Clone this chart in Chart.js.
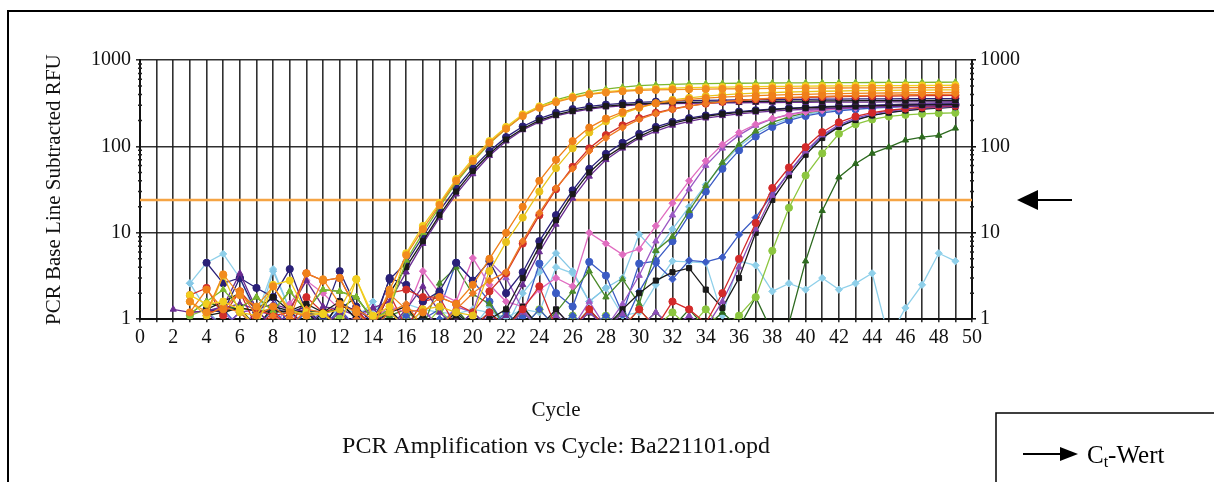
<!DOCTYPE html>
<html>
<head>
<meta charset="utf-8">
<script src="https://cdn.jsdelivr.net/npm/chart.js@4.4.1/dist/chart.umd.min.js"></script>
<style>
  html, body { margin: 0; padding: 0; background: #fff; }
  #grafica { display: block; }
</style>
</head>
<body>
<canvas id="grafica" width="1214" height="482"></canvas>
<script>
const grafica = document.getElementById('grafica');

// x: Zyklus 1..49
const cycles = [1, 2, 3, 4, 5, 6, 7, 8, 9, 10, 11, 12, 13, 14, 15, 16, 17, 18, 19, 20,
  21, 22, 23, 24, 25, 26, 27, 28, 29, 30, 31, 32, 33, 34, 35, 36, 37, 38, 39, 40,
  41, 42, 43, 44, 45, 46, 47, 48, 49];

const xTicks = [0, 2, 4, 6, 8, 10, 12, 14, 16, 18, 20, 22, 24, 26, 28, 30, 32, 34, 36, 38, 40, 42, 44, 46, 48, 50];
const yTicks = [1, 10, 100, 1000];
const threshold = 24;

// RFU werte, null = kein punkt, < 1 = unter der achse
const orangeA = [
  null, null, 1.6, 1.2, 3.3, 1.9, 1.4, 2.4, 1.2, 1.1,
  2.9, 1.5, 1.2, 0.8, 2.2, 5.5, 11, 21, 40, 68,
  110, 160, 225, 280, 325, 365, 400, 420, 435, 445,
  450, 455, 458, 460, 463, 465, 467, 469, 470, 472,
  472, 474, 475, 476, 477, 478, 479, 480, 482];
const yellowA = [
  null, null, 1.9, 1.5, 1.6, 1.3, 0.8, 2.5, 2.8, 1.2,
  1.15, 0.8, 2.9, 1.1, 1.4, 5.8, 12, 22, 42, 72,
  115, 168, 235, 290, 335, 375, 405, 430, 445, 458,
  466, 472, 478, 482, 486, 489, 492, 494, 496, 498,
  500, 502, 503, 504, 505, 506, 507, 508, 510];
const greenA = [
  null, null, 1.15, 1.6, 2.2, 1.35, 1.8, 1.25, 2.1, 1.25,
  2.2, 2.1, 1.8, 1.0, 1.3, 4.8, 10, 20, 38, 66,
  108, 160, 228, 290, 345, 390, 430, 460, 485, 505,
  515, 522, 528, 532, 535, 538, 540, 542, 543, 545,
  546, 547, 548, 549, 550, 551, 552, 553, 555];
const blackA = [
  null, null, null, 1.3, 1.6, 2.0, 1.3, 1.8, 1.25, 1.5,
  1.2, 1.6, 1.0, 0.8, 2.0, 4.0, 8, 16, 30, 52,
  82, 120, 160, 200, 232, 258, 278, 292, 302, 310,
  316, 320, 323, 326, 328, 330, 332, 333, 334, 335,
  336, 337, 338, 338, 339, 339, 340, 340, 341];
const purpleA = [
  null, 1.3, 1.2, 1.25, 1.4, 3.4, 1.3, 1.5, 1.3, 2.8,
  1.4, 1.3, 1.1, 1.35, 1.6, 3.5, 7.5, 15, 28, 48,
  78, 115, 155, 192, 225, 250, 270, 285, 295, 303,
  308, 312, 315, 317, 319, 320, 321, 322, 323, 324,
  325, 325, 326, 326, 327, 327, 328, 328, 329];
const navyA = [
  null, null, null, 4.5, 2.6, 3.0, 2.3, 1.8, 3.8, 1.2,
  1.1, 3.6, 1.4, 0.9, 2.9, 4.5, 9, 18, 33, 56,
  88, 128, 170, 210, 245, 270, 290, 305, 315, 323,
  330, 335, 338, 341, 343, 345, 347, 349, 350, 351,
  352, 353, 354, 355, 355, 356, 357, 358, 358];
const orangeB = [
  null, null, 1.2, 2.2, 1.3, 2.1, 1.1, 1.4, 1.0, 3.4,
  2.8, 3.0, 1.3, 1.0, 1.95, 1.3, 1.2, 1.8, 1.5, 2.5,
  5, 10, 20, 40, 70, 115, 165, 210, 250, 285,
  315, 335, 350, 362, 372, 380, 386, 392, 397, 401,
  405, 408, 411, 413, 415, 417, 419, 420, 422];
const yellowB = [
  null, null, 1.6, 1.1, 3.2, 1.2, 1.1, 2.4, 1.3, 1.1,
  1.15, 1.3, 2.9, 1.0, 1.2, 0.8, 1.3, 1.4, 1.2, 1.1,
  3.6, 7.8, 15, 30, 56, 95, 145, 195, 240, 280,
  315, 345, 365, 382, 395, 405, 413, 420, 426, 431,
  435, 438, 441, 443, 445, 447, 449, 450, 452];
const orange2B = [
  null, null, null, 1.1, 1.4, 1.2, 0.8, 1.1, 0.8, 1.3,
  1.2, 0.8, 1.0, 0.8, 1.2, 1.5, 0.8, 0.8, 1.3, 2.0,
  2.8, 3.5, 8, 17, 33, 55, 88, 125, 165, 205,
  240, 268, 292, 312, 328, 341, 352, 361, 368, 374,
  379, 383, 387, 390, 393, 396, 398, 400, 402];
const redB = [
  null, null, 1.9, 2.3, 1.1, 2.1, 1.3, 1.1, 1.2, 3.4,
  2.8, 3.0, 1.3, 0.8, 2.0, 2.2, 1.8, 1.8, 1.5, 1.2,
  2.1, 3.4, 7.5, 16, 32, 58, 95, 135, 175, 212,
  245, 272, 295, 313, 328, 340, 350, 358, 364, 369,
  373, 376, 379, 381, 383, 385, 386, 388, 389];
const blackC = [
  null, null, null, 1.1, 1.2, 1.35, 1.25, 1.2, 1.25, 1.2,
  0.8, 1.6, 1.0, 0.8, 1.2, 1.4, 0.8, 0.8, 1.1, 0.8,
  1.0, 1.3, 3.0, 7, 14, 28, 50, 75, 100, 130,
  160, 185, 205, 222, 236, 248, 258, 266, 273, 279,
  284, 288, 292, 295, 298, 300, 302, 304, 306];
const purpleC = [
  null, null, 1.2, 1.25, 1.35, 1.5, 1.3, 0.8, 1.2, 1.3,
  0.8, 1.2, 0.8, 1.35, 0.8, 1.3, 2.4, 1.2, 0.8, 1.2,
  0.8, 1.1, 2.5, 6, 12.5, 25, 45, 70, 95, 125,
  150, 175, 195, 212, 226, 238, 248, 256, 263, 269,
  274, 278, 282, 285, 288, 290, 292, 294, 296];
const navyC = [
  null, null, null, 1.3, 1.2, 3.0, 1.2, 1.3, 1.2, 1.4,
  0.8, 1.6, 1.2, 0.8, 3.0, 2.5, 1.6, 2.1, 4.5, 2.8,
  4.7, 2.0, 3.5, 8, 16, 31, 55, 82, 110, 140,
  168, 192, 212, 228, 242, 253, 262, 270, 277, 283,
  288, 292, 296, 299, 302, 304, 306, 308, 310];
const pinkD = [
  null, null, null, 1.2, 0.8, 1.2, 1.3, 0.8, 1.5, 2.8,
  2.0, 1.3, 0.8, 1.0, 1.4, 1.2, 3.6, 2.0, 1.6, 5.1,
  2.5, 1.6, 1.4, 2.2, 3.0, 2.4, 10, 7.5, 5.6, 6.5,
  12, 22, 40, 68, 105, 145, 180, 210, 232, 250,
  262, 272, 280, 286, 291, 295, 298, 301, 303];
const violetD = [
  null, null, null, null, 1.2, 0.8, 1.2, 1.15, 0.8, 1.3,
  1.2, 0.8, 1.0, 1.35, 0.8, 1.2, 1.3, 0.8, 1.4, 1.2,
  4.7, 3.0, 1.3, 0.8, 1.3, 0.8, 1.6, 0.8, 1.5, 3.2,
  8, 16, 32, 60, 95, 135, 175, 208, 235, 255,
  270, 282, 291, 298, 304, 309, 313, 316, 320];
const cyanD = [
  null, null, 2.6, 1.3, 0.8, 1.2, 0.8, 3.6, 1.3, 0.8,
  1.2, 0.8, 1.0, 1.6, 0.8, 1.3, 0.8, 1.0, 1.15, 0.8,
  1.4, 0.8, 2.0, 3.5, 5.8, 3.6, 1.6, 2.3, 3.0, 9.6,
  6, 11, 20, 36, 62, 100, 140, 178, 210, 235,
  252, 265, 275, 283, 290, 295, 299, 302, 305];
const blueD = [
  null, null, null, 1.2, 1.3, 0.8, 1.2, 1.8, 0.8, 1.3,
  0.8, 1.3, 0.8, 1.0, 1.3, 0.8, 1.0, 1.3, 4.5, 2.8,
  1.6, 0.8, 1.1, 4.4, 2.0, 1.4, 4.6, 3.2, 1.15, 4.4,
  4.7, 8, 16, 30, 55, 90, 130, 168, 200, 225,
  244, 258, 269, 277, 284, 289, 293, 297, 300];
const greenD = [
  null, null, 1.15, 1.6, 1.35, 1.35, 1.25, 1.25, 2.1, 1.25,
  2.2, 2.1, 1.8, 1.0, 1.1, 1.3, 0.8, 2.6, 4.0, 1.95,
  1.5, 0.8, 1.4, 0.8, 1.2, 2.1, 3.6, 1.8, 2.9, 1.5,
  6.2, 9, 18, 35, 65, 105, 150, 190, 220, 245,
  262, 276, 287, 295, 302, 308, 313, 317, 320];
const redE = [
  null, null, null, 1.2, 1.3, 2.1, 0.8, 1.2, 0.8, 1.8,
  1.2, 1.4, 1.3, 0.8, 1.95, 0.8, 1.6, 1.8, 0.8, 0.8,
  1.2, 0.8, 1.3, 2.4, 0.8, 0.8, 1.3, 0.8, 0.8, 1.3,
  0.8, 1.6, 1.3, 0.9, 2.0, 5, 13, 33, 57, 98,
  146, 190, 222, 246, 262, 274, 283, 290, 295];
const purpleE = [
  null, null, null, 1.2, 0.8, 1.2, 1.3, 0.8, 1.2, 0.8,
  1.3, 0.8, 1.1, 0.8, 1.2, 0.8, 1.3, 0.8, 1.0, 0.8,
  1.1, 0.8, 1.2, 0.8, 1.1, 0.8, 1.2, 0.8, 1.15, 0.8,
  1.2, 0.8, 1.1, 0.8, 1.6, 4, 11, 27, 50, 88,
  135, 178, 212, 238, 256, 268, 277, 284, 290];
const blackE = [
  null, null, null, 1.3, 1.25, 1.35, 0.8, 1.4, 1.25, 0.8,
  1.2, 0.8, 1.1, 0.8, 1.3, 0.8, 1.1, 0.8, 1.2, 0.8,
  1.2, 0.8, 1.4, 0.8, 1.3, 0.8, 1.2, 0.8, 1.3, 2.0,
  2.8, 3.5, 3.9, 2.2, 1.35, 3.0, 10, 24, 46, 80,
  125, 168, 202, 228, 246, 260, 270, 278, 285];
const blueE = [
  null, null, null, 1.2, 0.8, 1.2, 0.8, 1.3, 0.8, 1.2,
  0.8, 1.3, 0.8, 1.0, 0.8, 1.1, 0.8, 1.0, 0.8, 1.2,
  0.8, 1.2, 0.8, 1.3, 0.8, 1.1, 0.8, 1.1, 0.8, 2.1,
  4.4, 2.9, 4.8, 4.6, 5.2, 9.5, 15, 28, 50, 86,
  130, 172, 205, 230, 248, 262, 272, 280, 286];
const limeF = [
  null, null, 1.1, 1.3, 1.2, 1.35, 1.25, 1.3, 1.2, 1.1,
  0.8, 1.1, 0.8, 1.0, 0.8, 1.1, 0.8, 1.3, 0.8, 1.2,
  0.8, 1.2, 0.8, 1.3, 0.8, 1.1, 0.8, 1.1, 0.8, 1.3,
  0.8, 1.2, 0.8, 1.3, 0.8, 1.1, 1.8, 6.2, 19.5, 46,
  83, 140, 180, 205, 222, 232, 238, 242, 245];
const darkgreenG = [
  null, null, null, 1.6, 1.35, 1.35, 1.8, 1.25, 1.2, 1.25,
  1.2, 1.3, 1.8, 1.0, 1.2, 0.8, 1.1, 0.8, 1.3, 0.8,
  1.2, 0.8, 1.2, 0.8, 1.1, 0.8, 1.3, 0.8, 1.2, 0.8,
  1.2, 0.8, 1.3, 0.8, 1.2, 0.8, 1.8, 0.7, 0.9, 4.7,
  18, 44, 63, 83, 98, 118, 128, 134, 162];
const cyanN = [
  null, null, 2.6, 4.5, 5.7, 3.0, 1.1, 3.8, 1.3, 1.2,
  1.0, 1.3, 1.2, 1.3, 1.2, 1.5, 1.3, 1.2, 1.15, 1.3,
  1.2, 1.05, 1.3, 1.2, 4.0, 3.4, 1.6, 2.3, 1.1, 1.2,
  2.5, 4.7, 4.6, 4.5, 1.1, 4.7, 4.2, 2.1, 2.6, 2.2,
  3.0, 2.2, 2.6, 3.4, 0.6, 1.35, 2.5, 5.8, 4.7];

// reihenfolge: erste serie liegt oben
const series = [
  ['orangeA', orangeA, '#f28c1e', 'circle'],
  ['yellowA', yellowA, '#f2cf1f', 'circle'],
  ['orangeB', orangeB, '#f0801a', 'circle'],
  ['yellowB', yellowB, '#e9c21c', 'circle'],
  ['orange2B', orange2B, '#ee7a22', 'rectRot'],
  ['greenA', greenA, '#7cb72e', 'triangle'],
  ['redB', redB, '#d0302a', 'circle'],
  ['blackA', blackA, '#1a1a1a', 'rect'],
  ['purpleA', purpleA, '#6a2c91', 'triangle'],
  ['navyA', navyA, '#2a2078', 'circle'],
  ['blackC', blackC, '#1a1a1a', 'rect'],
  ['purpleC', purpleC, '#6a2c91', 'triangle'],
  ['navyC', navyC, '#2a2078', 'circle'],
  ['redE', redE, '#d32a2a', 'circle'],
  ['purpleE', purpleE, '#8a4cb8', 'triangle'],
  ['blackE', blackE, '#1a1a1a', 'rect'],
  ['blueE', blueE, '#3b5bc4', 'rectRot'],
  ['limeF', limeF, '#8cc63f', 'circle'],
  ['darkgreenG', darkgreenG, '#2d6a1f', 'triangle'],
  ['pinkD', pinkD, '#e06cc0', 'rectRot'],
  ['violetD', violetD, '#9b59c4', 'triangle'],
  ['greenD', greenD, '#4a8a2a', 'triangle'],
  ['blueD', blueD, '#3b5bc4', 'circle'],
  ['cyanD', cyanD, '#86c8e6', 'rectRot'],
  ['cyanN', cyanN, '#8fd0ea', 'rectRot']
];

const datasets = series.map(function (s) {
  return {
    label: s[0],
    data: cycles.map(function (c, i) { return { x: c, y: s[1][i] }; }),
    borderColor: s[2],
    backgroundColor: s[2],
    pointStyle: s[3],
    pointRadius: 3.6,
    pointBorderWidth: 1,
    borderWidth: 1.3,
    spanGaps: false,
    yAxisID: 'y'
  };
});

// Schwellenlinie (Ct)
datasets.push({
  label: 'threshold',
  data: [{ x: 0, y: threshold }, { x: 50, y: threshold }],
  borderColor: '#f5a444',
  borderWidth: 2.5,
  pointRadius: 0,
  yAxisID: 'y'
});

const serif = 'Liberation Serif, Times New Roman, serif';

const extras = {
  id: 'extras',
  afterDraw: function (chart) {
    const ctx = chart.ctx;
    const yl = chart.scales.y;
    const yr = chart.scales.y2;
    ctx.save();
    // kleine striche auf den y-achsen
    ctx.strokeStyle = '#222';
    ctx.lineWidth = 1.5;
    [1, 10, 100].forEach(function (d) {
      [2, 3, 4, 5, 6, 7, 8, 9].forEach(function (m) {
        const py = yl.getPixelForValue(d * m);
        ctx.beginPath();
        ctx.moveTo(yl.right - 2, py); ctx.lineTo(yl.right + 2, py);
        ctx.moveTo(yr.left - 2, py); ctx.lineTo(yr.left + 2, py);
        ctx.stroke();
      });
    });
    // rahmen
    ctx.strokeStyle = '#000';
    ctx.lineWidth = 2;
    ctx.beginPath();
    ctx.moveTo(8, 482); ctx.lineTo(8, 11); ctx.lineTo(1214, 11);
    ctx.stroke();
    // pfeil auf die schwelle
    const ty = yr.getPixelForValue(threshold);
    ctx.fillStyle = '#000';
    ctx.beginPath();
    ctx.moveTo(1036, ty); ctx.lineTo(1072, ty);
    ctx.stroke();
    ctx.beginPath();
    ctx.moveTo(1017, ty); ctx.lineTo(1038, ty - 10); ctx.lineTo(1038, ty + 10);
    ctx.closePath(); ctx.fill();
    // legende
    ctx.lineWidth = 1.5;
    ctx.strokeRect(996, 413, 240, 100);
    ctx.lineWidth = 2;
    ctx.beginPath();
    ctx.moveTo(1023, 454); ctx.lineTo(1062, 454);
    ctx.stroke();
    ctx.beginPath();
    ctx.moveTo(1078, 454); ctx.lineTo(1060, 447); ctx.lineTo(1060, 461);
    ctx.closePath(); ctx.fill();
    ctx.textBaseline = 'alphabetic';
    ctx.textAlign = 'left';
    ctx.font = '25px ' + serif;
    ctx.fillText('C', 1087, 463);
    let w = ctx.measureText('C').width;
    ctx.font = '16px ' + serif;
    ctx.fillText('t', 1087 + w, 467);
    const w2 = ctx.measureText('t').width;
    ctx.font = '25px ' + serif;
    ctx.fillText('-Wert', 1087 + w + w2, 463);
    ctx.restore();
  }
};

const gridColor = 'rgba(25,25,25,0.9)';

const config = {
  type: 'line',
  data: { datasets: datasets },
  options: {
    responsive: false,
    animation: false,
    devicePixelRatio: 1,
    layout: { padding: { left: 30, top: 60, right: 0, bottom: 0 } },
    plugins: {
      legend: { display: false },
      tooltip: { enabled: false },
      title: {
        display: true,
        position: 'bottom',
        fullSize: false,
        text: 'PCR Amplification vs Cycle: Ba221101.opd',
        color: '#111',
        font: { family: serif, size: 24, weight: 'normal' },
        padding: { top: 4, bottom: 21 }
      }
    },
    scales: {
      x: {
        type: 'linear',
        min: 0,
        max: 50,
        afterBuildTicks: function (axis) {
          axis.ticks = cycles.concat([0, 50]).sort(function (a, b) { return a - b; }).map(function (v) { return { value: v }; });
        },
        afterFit: function (axis) { axis.height = 109; },
        ticks: {
          autoSkip: false,
          maxRotation: 0,
          padding: 4,
          color: '#111',
          font: { family: serif, size: 20 },
          callback: function (v) { return xTicks.indexOf(v) >= 0 ? String(v) : ''; }
        },
        grid: { color: gridColor, lineWidth: 1.6, drawTicks: true, tickLength: 3 },
        border: { color: '#111', width: 2 },
        title: {
          display: true,
          text: 'Cycle',
          color: '#111',
          font: { family: serif, size: 21 },
          padding: { top: 0, bottom: 5 }
        }
      },
      y: {
        type: 'logarithmic',
        position: 'left',
        min: 1,
        max: 1000,
        afterBuildTicks: function (axis) {
          axis.ticks = yTicks.map(function (v) { return { value: v }; });
        },
        afterFit: function (axis) { axis.width = 110; },
        ticks: {
          padding: 5,
          color: '#111',
          font: { family: serif, size: 20 },
          callback: function (v) { return String(v); }
        },
        grid: { color: gridColor, lineWidth: 1.6, drawTicks: true, tickLength: 4 },
        border: { color: '#111', width: 2 },
        title: {
          display: true,
          text: 'PCR Base Line Subtracted RFU',
          color: '#111',
          font: { family: serif, size: 21 },
          padding: { top: 12, bottom: 0 }
        }
      },
      y2: {
        type: 'logarithmic',
        position: 'right',
        min: 1,
        max: 1000,
        afterBuildTicks: function (axis) {
          axis.ticks = yTicks.map(function (v) { return { value: v }; });
        },
        afterFit: function (axis) { axis.width = 242; },
        ticks: {
          padding: 4,
          color: '#111',
          font: { family: serif, size: 20 },
          callback: function (v) { return String(v); }
        },
        grid: { drawOnChartArea: false, color: '#111', lineWidth: 1.6, drawTicks: true, tickLength: 4 },
        border: { color: '#111', width: 2 }
      }
    }
  },
  plugins: [extras]
};

new Chart(grafica, config);
</script>
</body>
</html>
